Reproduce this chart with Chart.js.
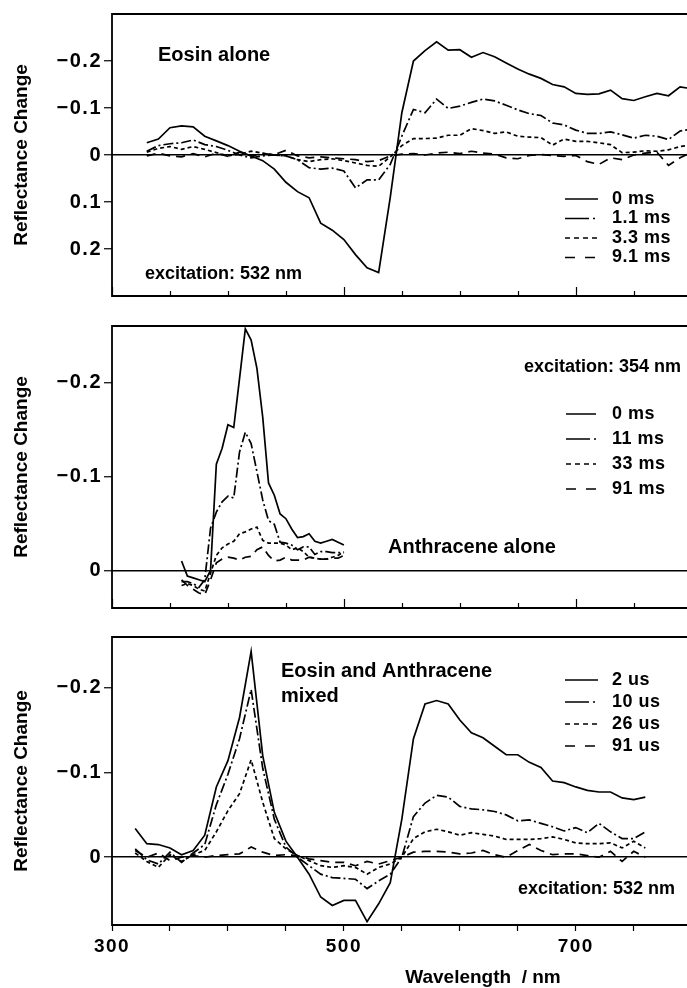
<!DOCTYPE html>
<html>
<head>
<meta charset="utf-8">
<script src="https://cdn.jsdelivr.net/npm/chart.js@4.4.0/dist/chart.umd.min.js"></script>
<style>
  html, body { margin: 0; padding: 0; background: #fff; overflow: hidden; }
  #page { position: relative; width: 687px; height: 988px; overflow: hidden; background: #fff; }
  canvas { position: absolute; left: 0; }
</style>
</head>
<body>
<div id="page">
  <canvas id="eosin" width="870" height="310" style="top:0px"></canvas>
  <canvas id="anth" width="870" height="310" style="top:312px"></canvas>
  <canvas id="mix" width="870" height="380" style="top:623px"></canvas>
</div>
<script>
// ---- data (reflectance change; negative = up) ----
const eosinWavelength = [330, 340, 350, 360, 370, 380, 390, 400, 410, 420, 430, 440, 450, 460, 470, 480,
  490, 500, 510, 520, 530, 540, 550, 560, 570, 580, 590, 600, 610, 620, 630, 640, 650, 660, 670, 680,
  690, 700, 710, 720, 730, 740, 750, 760, 770, 780, 790, 800];
const eosin0ms = [-0.026, -0.034, -0.058, -0.062, -0.060, -0.040, -0.030, -0.020, -0.008, 0.002,
  0.012, 0.030, 0.058, 0.078, 0.091, 0.145, 0.160, 0.180, 0.212, 0.240,
  0.250, 0.090, -0.090, -0.200, -0.222, -0.241, -0.223, -0.224, -0.208, -0.218,
  -0.209, -0.196, -0.183, -0.172, -0.163, -0.150, -0.145, -0.131, -0.129, -0.130,
  -0.138, -0.120, -0.116, -0.124, -0.131, -0.126, -0.145, -0.141];
const eosin1p1ms = [-0.008, -0.020, -0.024, -0.026, -0.032, -0.022, -0.018, -0.010, 0.000, 0.006,
  0.002, 0.000, 0.002, 0.010, 0.027, 0.030, 0.028, 0.034, 0.070, 0.053,
  0.053, 0.020, -0.040, -0.097, -0.090, -0.119, -0.099, -0.104, -0.112, -0.119,
  -0.115, -0.106, -0.096, -0.088, -0.084, -0.068, -0.064, -0.053, -0.046, -0.046,
  -0.049, -0.043, -0.036, -0.042, -0.040, -0.033, -0.051, -0.055];
const eosin3p3ms = [-0.006, -0.014, -0.018, -0.012, -0.018, -0.012, -0.005, 0.002, -0.002, -0.008,
  -0.004, 0.000, 0.002, 0.010, 0.014, 0.010, 0.008, 0.012, 0.017, 0.022,
  0.024, 0.004, -0.020, -0.035, -0.035, -0.036, -0.042, -0.042, -0.056, -0.052,
  -0.046, -0.049, -0.040, -0.038, -0.037, -0.021, -0.034, -0.029, -0.029, -0.026,
  -0.022, -0.005, -0.006, -0.009, -0.008, -0.011, -0.018, -0.021];
const eosin9p1ms = [0.002, -0.004, 0.002, 0.004, -0.003, 0.004, -0.004, 0.003, -0.006, 0.002,
  -0.003, -0.001, -0.010, 0.002, 0.006, 0.004, 0.006, 0.008, 0.010, 0.014,
  0.012, 0.002, -0.002, -0.003, 0.000, -0.004, -0.006, -0.003, -0.008, -0.004,
  -0.002, 0.006, 0.008, 0.001, -0.001, 0.001, 0.003, 0.001, 0.014, 0.020,
  0.006, 0.010, 0.000, -0.004, -0.006, 0.022, 0.006, -0.006];
const eosinLabels = ['0 ms', '1.1 ms', '3.3 ms', '9.1 ms'];

const anthWavelength = [360, 365, 370, 375, 380, 385, 390, 395, 400, 405, 410, 415, 420, 425, 430,
  435, 440, 445, 450, 455, 460, 465, 470, 475, 480, 485, 490, 495, 500];
const anth0ms = [-0.010, 0.006, 0.008, 0.010, 0.012, 0.000, -0.113, -0.130, -0.155, -0.152,
  -0.204, -0.257, -0.245, -0.215, -0.163, -0.093, -0.080, -0.060, -0.055, -0.044,
  -0.035, -0.036, -0.039, -0.031, -0.029, -0.031, -0.033, -0.030, -0.027];
const anth11ms = [0.012, 0.012, 0.014, 0.018, 0.010, -0.045, -0.062, -0.073, -0.079, -0.077,
  -0.126, -0.147, -0.135, -0.105, -0.075, -0.053, -0.049, -0.030, -0.029, -0.027,
  -0.022, -0.025, -0.025, -0.017, -0.020, -0.020, -0.019, -0.019, -0.019];
const anth33ms = [0.016, 0.014, 0.016, 0.020, 0.022, 0.003, -0.016, -0.024, -0.028, -0.031,
  -0.039, -0.041, -0.044, -0.046, -0.032, -0.029, -0.029, -0.029, -0.027, -0.022,
  -0.024, -0.020, -0.014, -0.013, -0.012, -0.012, -0.014, -0.016, -0.020];
const anth91ms = [0.010, 0.016, 0.020, 0.024, 0.026, 0.010, -0.008, -0.012, -0.014, -0.013,
  -0.011, -0.014, -0.015, -0.022, -0.025, -0.016, -0.010, -0.011, -0.014, -0.011,
  -0.011, -0.011, -0.014, -0.013, -0.012, -0.012, -0.013, -0.013, -0.016];
const anthLabels = ['0 ms', '11 ms', '33 ms', '91 ms'];

const mixWavelength = [320, 330, 340, 350, 360, 370, 380, 390, 400, 410, 420, 430, 440, 450, 460,
  470, 480, 490, 500, 510, 520, 530, 540, 550, 560, 570, 580, 590, 600, 610, 620, 630, 640, 650,
  660, 670, 680, 690, 700, 710, 720, 730, 740, 750, 760];
const mix2us = [-0.034, -0.016, -0.015, -0.011, -0.003, -0.008, -0.026, -0.083, -0.114, -0.165,
  -0.243, -0.120, -0.053, -0.019, 0.000, 0.020, 0.047, 0.057, 0.051, 0.051,
  0.076, 0.055, 0.030, -0.045, -0.140, -0.181, -0.185, -0.181, -0.162, -0.147,
  -0.141, -0.131, -0.121, -0.121, -0.112, -0.106, -0.090, -0.088, -0.083, -0.079,
  -0.077, -0.077, -0.070, -0.068, -0.071];
const mix10us = [-0.010, 0.003, 0.008, -0.006, 0.006, -0.005, -0.015, -0.062, -0.098, -0.140,
  -0.198, -0.105, -0.045, -0.012, 0.000, 0.010, 0.020, 0.024, 0.025, 0.026,
  0.037, 0.028, 0.020, 0.000, -0.048, -0.064, -0.073, -0.071, -0.060, -0.057,
  -0.056, -0.054, -0.050, -0.043, -0.044, -0.040, -0.036, -0.031, -0.035, -0.029,
  -0.040, -0.030, -0.022, -0.022, -0.030];
const mix26us = [-0.005, 0.005, 0.012, -0.003, 0.005, -0.003, -0.008, -0.030, -0.055, -0.075,
  -0.115, -0.065, -0.022, -0.010, -0.002, 0.004, 0.010, 0.012, 0.010, 0.012,
  0.020, 0.012, 0.008, 0.000, -0.022, -0.030, -0.033, -0.030, -0.026, -0.029,
  -0.027, -0.025, -0.021, -0.021, -0.021, -0.022, -0.024, -0.021, -0.017, -0.016,
  -0.016, -0.017, -0.011, -0.019, -0.011];
const mix91us = [-0.008, 0.000, -0.005, 0.004, 0.000, -0.002, 0.000, -0.002, -0.003, -0.004,
  -0.012, -0.006, -0.002, -0.003, -0.002, 0.002, 0.004, 0.006, 0.006, 0.010,
  0.005, 0.008, 0.004, 0.000, -0.006, -0.007, -0.007, -0.006, -0.004, -0.005,
  -0.008, -0.003, 0.000, -0.008, -0.015, -0.008, -0.003, -0.004, -0.004, -0.002,
  0.000, -0.007, 0.005, -0.007, 0.000];
const mixLabels = ['2 us', '10 us', '26 us', '91 us'];

const xTickValues = [300, 350, 400, 450, 500, 550, 600, 650, 700, 750, 800, 850, 900];
const xLabelValues = [300, 500, 700, 900];
const eosinYTicks = [-0.2, -0.1, 0, 0.1, 0.2];
const anthYTicks = [-0.2, -0.1, 0];
const mixYTicks = [-0.2, -0.1, 0];

const yTitle = 'Reflectance Change';
const xTitle = 'Wavelength  / nm';

// ---- styling ----
const FONT = "'Liberation Sans', Arial, Helvetica, sans-serif";
const lineDashes = [[], [10, 3, 2, 3], [4, 3], [9, 6]];
const legendDashes = [[], [24, 4, 2, 20], [5, 4], [10, 10]];

// frame, inward ticks, titles, notes and the in-plot legend
const framePlugin = {
  id: 'frame',
  beforeDraw(chart) {
    chart.ctx.letterSpacing = '1.5px';
  },
  afterDraw(chart, args, opts) {
    const { ctx, chartArea: a, scales: { x } } = chart;
    ctx.save();
    ctx.letterSpacing = '0px';
    ctx.strokeStyle = '#000';
    ctx.fillStyle = '#000';
    ctx.setLineDash([]);
    ctx.lineWidth = 1.8;
    ctx.beginPath();
    ctx.moveTo(a.right, a.top);
    ctx.lineTo(a.left, a.top);
    ctx.lineTo(a.left, a.bottom);
    ctx.lineTo(a.right, a.bottom);
    ctx.stroke();

    if (opts.innerTicks) {
      ctx.lineWidth = 1.2;
      xTickValues.forEach(v => {
        const px = Math.round(x.getPixelForValue(v)) + 0.5;
        const len = xLabelValues.includes(v) ? 9 : 5;
        ctx.beginPath();
        ctx.moveTo(px, a.bottom);
        ctx.lineTo(px, a.bottom - len);
        ctx.stroke();
      });
    }

    ctx.save();
    ctx.font = 'bold 19px ' + FONT;
    ctx.textAlign = 'center';
    ctx.textBaseline = 'middle';
    ctx.translate(22, (a.top + a.bottom) / 2);
    ctx.rotate(-Math.PI / 2);
    ctx.fillText(yTitle, 0, 0);
    ctx.restore();

    if (opts.xTitle) {
      ctx.font = 'bold 19px ' + FONT;
      ctx.textAlign = 'center';
      ctx.textBaseline = 'middle';
      ctx.fillText(xTitle, (a.left + a.right) / 2, a.bottom + 53);
    }

    ctx.textAlign = 'left';
    ctx.textBaseline = 'middle';
    (opts.notes || []).forEach(n => {
      ctx.font = 'bold ' + n.size + 'px ' + FONT;
      ctx.fillText(n.text, a.left + n.dx, a.top + n.dy);
    });

    const lg = opts.legend;
    chart.data.datasets.forEach((ds, i) => {
      const y = a.top + lg.dy + i * lg.step;
      ctx.lineWidth = 1.5;
      ctx.setLineDash(ds.legendDash);
      ctx.beginPath();
      ctx.moveTo(a.left + lg.dx, y);
      ctx.lineTo(a.left + lg.dx + lg.len, y);
      ctx.stroke();
      ctx.setLineDash([]);
      ctx.font = 'bold 18px ' + FONT;
      ctx.letterSpacing = '0.5px';
      ctx.fillText(ds.label, a.left + lg.tx, y);
      ctx.letterSpacing = '0px';
    });
    ctx.restore();
    ctx.letterSpacing = '0px';
  }
};

function yTickLabel(v) {
  if (v === 0) return '0';
  return (v < 0 ? '\u2212' : '') + Math.abs(v).toFixed(1);
}

function makePanel(id, wavelengths, series, labels, yMin, yMax, yTicks, cfg) {
  const datasets = series.map((vals, i) => ({
    label: labels[i],
    data: wavelengths.map((w, j) => ({ x: w, y: vals[j] })),
    borderColor: '#000',
    borderWidth: 1.7,
    borderDash: lineDashes[i],
    legendDash: legendDashes[i],
    pointRadius: 0,
    tension: 0,
    fill: false
  }));

  const xScale = cfg.showX ? {
    type: 'linear', min: 300, max: 940,
    afterBuildTicks: s => { s.ticks = xTickValues.map(v => ({ value: v })); },
    afterFit: s => { s.height = 78; },
    ticks: {
      autoSkip: false, maxRotation: 0, padding: 4, color: '#000',
      font: { family: FONT, size: 19, weight: 'bold' },
      callback: v => xLabelValues.includes(v) ? String(v) : ''
    },
    grid: { drawOnChartArea: false, drawTicks: true, tickLength: 6, tickColor: '#000', tickWidth: 1.2 },
    border: { display: false }
  } : { type: 'linear', min: 300, max: 940, display: false };

  return new Chart(document.getElementById(id), {
    type: 'line',
    data: { datasets },
    options: {
      responsive: false,
      animation: false,
      devicePixelRatio: 1,
      layout: { padding: { top: cfg.padTop, bottom: cfg.padBottom, left: 0, right: 16 } },
      plugins: {
        legend: { display: false },
        tooltip: { enabled: false },
        frame: { innerTicks: !cfg.showX, xTitle: cfg.showX, notes: cfg.notes, legend: cfg.legend }
      },
      scales: {
        x: xScale,
        y: {
          type: 'linear', reverse: true, min: yMin, max: yMax,
          afterBuildTicks: s => { s.ticks = yTicks.map(v => ({ value: v })); },
          afterFit: s => { s.width = 112; },
          ticks: {
            padding: 2, color: '#000',
            font: { family: FONT, size: 20, weight: 'bold' },
            callback: yTickLabel
          },
          grid: {
            color: c => (c.tick && c.tick.value === 0) ? '#000' : 'rgba(0,0,0,0)',
            lineWidth: 1.5,
            drawTicks: true, tickLength: 8, tickColor: '#000', tickWidth: 1.2
          },
          border: { display: false }
        }
      }
    },
    plugins: [framePlugin]
  });
}

makePanel('eosin', eosinWavelength, [eosin0ms, eosin1p1ms, eosin3p3ms, eosin9p1ms], eosinLabels,
  -0.3, 0.3, eosinYTicks, {
    showX: false, padTop: 12, padBottom: 8,
    notes: [
      { text: 'Eosin alone', dx: 46, dy: 41, size: 20 },
      { text: 'excitation: 532 nm', dx: 33, dy: 260, size: 18 }
    ],
    legend: { dx: 453, len: 33, tx: 500, dy: 185, step: 19.5 }
  });

makePanel('anth', anthWavelength, [anth0ms, anth11ms, anth33ms, anth91ms], anthLabels,
  -0.26, 0.04, anthYTicks, {
    showX: false, padTop: 10, padBottom: 7,
    notes: [
      { text: 'excitation: 354 nm', dx: 412, dy: 41, size: 18 },
      { text: 'Anthracene alone', dx: 276, dy: 221, size: 20 }
    ],
    legend: { dx: 454, len: 30, tx: 500, dy: 88, step: 25 }
  });

makePanel('mix', mixWavelength, [mix2us, mix10us, mix26us, mix91us], mixLabels,
  -0.26, 0.08, mixYTicks, {
    showX: true, padTop: 10, padBottom: 0,
    notes: [
      { text: 'Eosin and Anthracene', dx: 169, dy: 34, size: 20 },
      { text: 'mixed', dx: 169, dy: 59, size: 20 },
      { text: 'excitation: 532 nm', dx: 406, dy: 252, size: 18 }
    ],
    legend: { dx: 453, len: 33, tx: 500, dy: 43, step: 22 }
  });
</script>
</body>
</html>
